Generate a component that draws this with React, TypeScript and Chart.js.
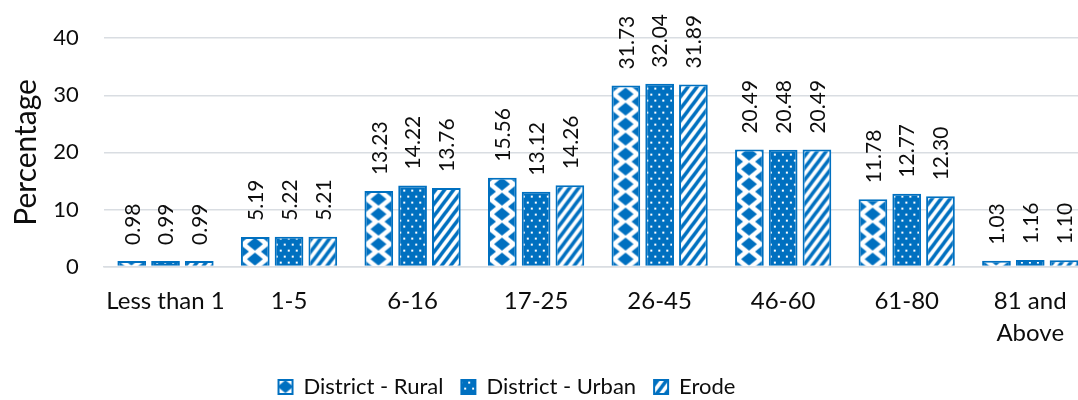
import { useEffect, useRef } from 'react';
import { Chart, registerables } from 'chart.js';

Chart.register(...registerables);

// Age groups on the x axis
const AGE_GROUPS: (string | string[])[] = [
  'Less than 1',
  '1-5',
  '6-16',
  '17-25',
  '26-45',
  '46-60',
  '61-80',
  ['81 and', 'Above'],
];

// Share of population (%) per age group
const RURAL = [0.98, 5.19, 13.23, 15.56, 31.73, 20.49, 11.78, 1.03];
const URBAN = [0.99, 5.22, 14.22, 13.12, 32.04, 20.48, 12.77, 1.16];
const ERODE = [0.99, 5.21, 13.76, 14.26, 31.89, 20.49, 12.3, 1.1];

const SERIES_NAMES = ['District - Rural', 'District - Urban', 'Erode'];
const Y_TICKS = [0, 10, 20, 30, 40];
const Y_TITLE = 'Percentage';

const BLUE = '#0070C0';
const TEXT = '#0d0d0d';
const GRID = '#d9dde2';
const FONT = "Lato, 'Open Sans', sans-serif";
const CAT_PCT = 0.82;
const BAR_PCT = 0.85;

const CANVAS_W = 1104;
const CANVAS_H = 400;
const Y_AXIS_WIDTH = 99.75;
const X_AXIS_HEIGHT = 83.4;
const LEGEND_CENTER_X = 507;
const LEGEND_DROP = 8;

type Painter = (g: CanvasRenderingContext2D, w: number, h: number) => void;

function makeTile(w: number, h: number, paint: Painter): HTMLCanvasElement {
  const c = document.createElement('canvas');
  c.width = w;
  c.height = h;
  const g = c.getContext('2d') as CanvasRenderingContext2D;
  paint(g, w, h);
  return c;
}

// White ground with staggered blue diamonds
function diamondTile() {
  return makeTile(28, 15, (g, w, h) => {
    g.fillStyle = '#ffffff';
    g.fillRect(0, 0, w, h);
    g.fillStyle = BLUE;
    const d = (cx: number, cy: number) => {
      g.beginPath();
      g.moveTo(cx - 8, cy);
      g.lineTo(cx, cy - 6.4);
      g.lineTo(cx + 8, cy);
      g.lineTo(cx, cy + 6.4);
      g.closePath();
      g.fill();
    };
    d(14, 7.5);
    d(0, 0);
    d(28, 0);
    d(0, 15);
    d(28, 15);
  });
}

// Solid blue with small white dots
function dotTile() {
  return makeTile(8, 12, (g, w, h) => {
    g.fillStyle = BLUE;
    g.fillRect(0, 0, w, h);
    g.fillStyle = '#ffffff';
    g.fillRect(1, 1, 2, 2);
    g.fillRect(5, 7, 2, 2);
  });
}

// White ground with blue forward diagonal stripes
function stripeTile() {
  return makeTile(9, 12, (g, w, h) => {
    g.fillStyle = '#ffffff';
    g.fillRect(0, 0, w, h);
    g.strokeStyle = BLUE;
    g.lineWidth = 3.5;
    for (let k = -1; k <= 1; k++) {
      g.beginPath();
      g.moveTo(k * w - w, 2 * h);
      g.lineTo(k * w + 2 * w, -h);
      g.stroke();
    }
  });
}

// Pattern fill aligned with the left edge of each bar
function patternFill(tile: HTMLCanvasElement) {
  return (ctx: any) => {
    const chart = ctx.chart;
    const pat = chart.ctx.createPattern(tile, 'repeat');
    const xs = chart.scales?.x;
    if (pat && xs && ctx.type === 'data') {
      const catW = xs.width / AGE_GROUPS.length;
      const slot = (catW * CAT_PCT) / 3;
      const left =
        xs.getPixelForValue(ctx.dataIndex) -
        (catW * CAT_PCT) / 2 +
        slot * ctx.datasetIndex +
        (slot * (1 - BAR_PCT)) / 2;
      const top = chart.chartArea ? chart.chartArea.bottom : 0;
      pat.setTransform(new DOMMatrix([1, 0, 0, 1, left, top]));
    }
    return pat;
  };
}

// Rotated value labels above each bar
const barValueLabels = {
  id: 'barValueLabels',
  afterDatasetsDraw(chart: any) {
    const { ctx } = chart;
    ctx.save();
    ctx.font = `21px ${FONT}`;
    ctx.fillStyle = TEXT;
    ctx.textAlign = 'left';
    ctx.textBaseline = 'middle';
    chart.data.datasets.forEach((ds: any, di: number) => {
      const meta = chart.getDatasetMeta(di);
      meta.data.forEach((bar: any, i: number) => {
        const v = ds.data[i] as number;
        ctx.save();
        ctx.translate(bar.x + 1, bar.y - 16);
        ctx.rotate(-Math.PI / 2);
        ctx.fillText(v.toFixed(2), 0, 0);
        ctx.restore();
      });
    });
    ctx.restore();
  },
};

// Centre the legend row under the plotted groups
const legendShift = {
  id: 'legendShift',
  afterLayout(chart: any) {
    const lg = chart.legend;
    if (!lg) return;
    const dx = LEGEND_CENTER_X - (lg.left + lg.right) / 2;
    lg.left += dx;
    lg.right += dx;
    lg.top += LEGEND_DROP;
    lg.bottom += LEGEND_DROP;
  },
};

export default function App() {
  const canvasRef = useRef<HTMLCanvasElement | null>(null);

  useEffect(() => {
    const canvas = canvasRef.current;
    if (!canvas) return;
    const tiles = [diamondTile(), dotTile(), stripeTile()];
    const series = [RURAL, URBAN, ERODE];

    const chart = new Chart(canvas, {
      type: 'bar',
      data: {
        labels: AGE_GROUPS,
        datasets: series.map((values, i) => ({
          label: SERIES_NAMES[i],
          data: values,
          backgroundColor: patternFill(tiles[i]) as any,
          borderColor: BLUE,
          borderWidth: 2,
          categoryPercentage: CAT_PCT,
          barPercentage: BAR_PCT,
        })),
      },
      options: {
        responsive: false,
        animation: false,
        devicePixelRatio: 1,
        layout: { padding: { left: 4, right: 12, top: 36, bottom: 0 } },
        plugins: {
          tooltip: { enabled: false },
          legend: {
            position: 'bottom',
            labels: {
              boxWidth: 14,
              boxHeight: 14,
              padding: 18,
              color: TEXT,
              font: { family: FONT, size: 22 },
            },
          },
        },
        scales: {
          x: {
            afterFit: (scale: any) => {
              scale.height = X_AXIS_HEIGHT;
            },
            grid: { display: false, drawTicks: false },
            border: { display: true, color: GRID, width: 1.5 },
            ticks: {
              color: TEXT,
              padding: 18,
              autoSkip: false,
              maxRotation: 0,
              font: { family: FONT, size: 24, lineHeight: 1.35 },
            },
          },
          y: {
            min: Y_TICKS[0],
            max: Y_TICKS[Y_TICKS.length - 1],
            afterBuildTicks: (axis: any) => {
              axis.ticks = Y_TICKS.map((v) => ({ value: v }));
            },
            afterFit: (scale: any) => {
              scale.width = Y_AXIS_WIDTH;
            },
            grid: { color: GRID, lineWidth: 1.5, drawTicks: false },
            border: { display: false },
            ticks: {
              color: TEXT,
              padding: 25,
              font: { family: FONT, size: 22 },
            },
            title: {
              display: true,
              text: Y_TITLE,
              color: TEXT,
              padding: { top: 4, bottom: 9 },
              font: { family: FONT, size: 30 },
            },
          },
        },
      },
      plugins: [barValueLabels, legendShift],
    });

    return () => chart.destroy();
  }, []);

  return (
    <div
      style={{
        position: 'absolute',
        left: 0,
        top: 0,
        width: 1078,
        height: 400,
        overflow: 'hidden',
        background: '#ffffff',
      }}
    >
      <canvas
        ref={canvasRef}
        width={CANVAS_W}
        height={CANVAS_H}
        style={{
          position: 'absolute',
          left: 0,
          top: 0,
          width: CANVAS_W,
          height: CANVAS_H,
        }}
      />
    </div>
  );
}
